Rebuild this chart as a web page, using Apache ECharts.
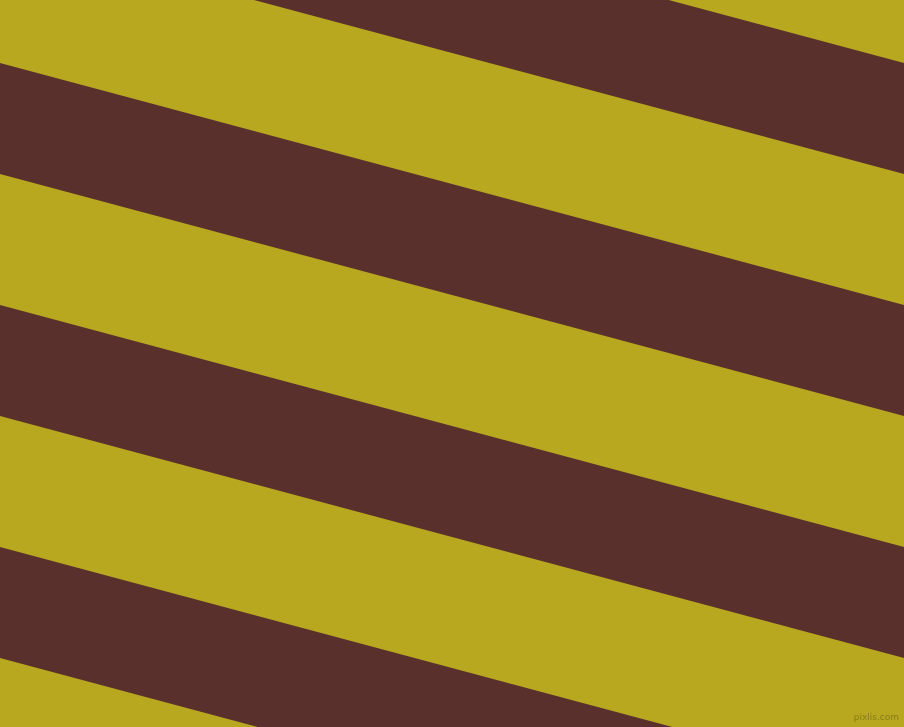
<!DOCTYPE html>
<html>
<head>
<meta charset="utf-8">
<script src="https://cdn.jsdelivr.net/npm/echarts@6/dist/echarts.min.js"></script>
<style>
html,body{margin:0;padding:0;background:#b8a820;}
#chart{width:904px;height:727px;}
</style>
</head>
<body>
<div id="chart"></div>
<script>
// Brown stripe edges: y values at the left edge (x=0) and right edge (x=904)
const topLeft = [-179, 63, 305, 547];
const bottomLeft = [-68, 174, 416, 658];
const topRight = [63, 305, 547, 789];
const bottomRight = [174, 416, 658, 900];
const xLeft = 0;
const xRight = 904;

const stripeData = topLeft.map((t, i) => [t, bottomLeft[i], topRight[i], bottomRight[i]]);

const chart = echarts.init(document.getElementById('chart'));
chart.setOption({
  backgroundColor: '#b8a820',
  animation: false,
  grid: {left: 0, right: 0, top: 0, bottom: 0},
  xAxis: {type: 'value', min: 0, max: 904, show: false},
  yAxis: {type: 'value', min: 0, max: 727, inverse: true, show: false},
  graphic: [{
    type: 'text', right: 5, bottom: 5,
    style: {text: 'pixlis.com', fill: '#8a7e18', font: '9px DejaVu Sans'}
  }],
  series: [{
    type: 'custom',
    clip: true,
    data: stripeData,
    renderItem: function (params, api) {
      const p1 = api.coord([xLeft, api.value(0)]);
      const p2 = api.coord([xRight, api.value(2)]);
      const p3 = api.coord([xRight, api.value(3)]);
      const p4 = api.coord([xLeft, api.value(1)]);
      return {
        type: 'polygon',
        shape: {points: [p1, p2, p3, p4]},
        style: {fill: '#5a302c'}
      };
    }
  }]
});
</script>
</body>
</html>
